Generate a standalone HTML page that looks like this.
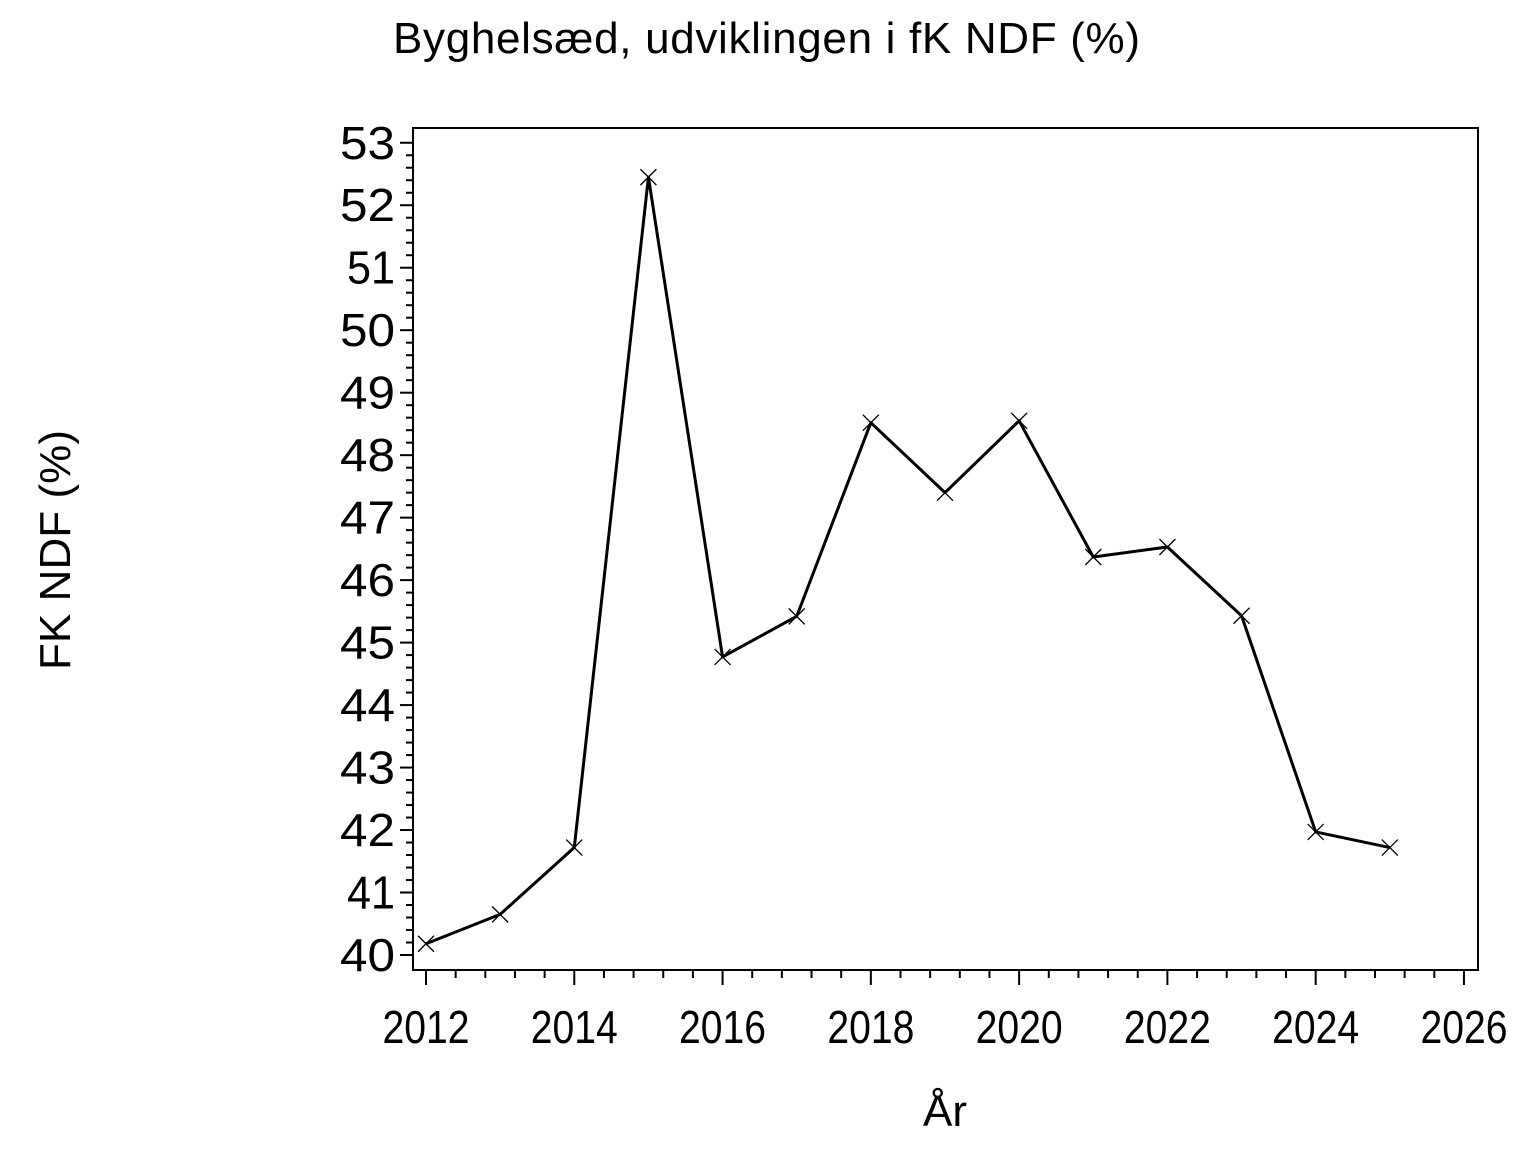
<!DOCTYPE html>
<html><head><style>body{margin:0;background:#fff}svg{display:block}text{font-family:"Liberation Sans",Arial,sans-serif;fill:#000}</style></head><body>
<svg width="1536" height="1152" viewBox="0 0 1536 1152" xmlns="http://www.w3.org/2000/svg">
<text x="393" y="53" font-size="44" textLength="747" lengthAdjust="spacing">Byghelsæd,  udviklingen  i  fK  NDF  (%)</text>
<text transform="translate(70,550) rotate(-90)" font-size="44" text-anchor="middle" textLength="240" lengthAdjust="spacing">FK  NDF  (%)</text>
<text x="945" y="1126" font-size="44" text-anchor="middle">År</text>
<rect x="413" y="128" width="1065" height="842" fill="none" stroke="#000" stroke-width="2"/>
<g id="yt" stroke="#000" stroke-width="2"></g>
<g id="xt" stroke="#000" stroke-width="2"></g>
<g id="yl" font-size="46" text-anchor="end"></g>
<g id="xl" font-size="46" text-anchor="middle"></g>
<polyline id="ln" fill="none" stroke="#000" stroke-width="3" stroke-linejoin="round"/>
<g id="mk" stroke="#000" stroke-width="1.3"></g>
<script>
var ns="http://www.w3.org/2000/svg";
function el(p,t,a,tx){var e=document.createElementNS(ns,t);for(var k in a)e.setAttribute(k,a[k]);if(tx)e.textContent=tx;document.getElementById(p).appendChild(e);return e;}
function Y(v){return 955-62.48*(v-40);}
function X(y){return 426+74.14*(y-2012);}
for(var i=0;i<=65;i++){var y=955-i*62.48/5;el("yt","line",{x1:i%5?406:400,x2:413,y1:y,y2:y});}
for(var v=40;v<=53;v++)el("yl","text",{x:395,y:Y(v)+16,textLength:(v==41||v==51)?48:55,lengthAdjust:"spacingAndGlyphs"},v);
for(var i=0;i<=35;i++){var x=426+i*74.14*2/5;el("xt","line",{x1:x,x2:x,y1:970,y2:i%5?978:985});}
for(var yr=2012;yr<=2026;yr+=2)el("xl","text",{x:X(yr),y:1043,textLength:87,lengthAdjust:"spacingAndGlyphs"},yr);
var d=[40.18,40.65,41.72,52.45,44.77,45.42,48.52,47.4,48.55,46.37,46.53,45.43,41.97,41.72],pts=[];
d.forEach(function(v,i){var x=X(2012+i),y=Y(v);pts.push(x+","+y);
el("mk","line",{x1:x-8,y1:y-8,x2:x+8,y2:y+8});el("mk","line",{x1:x-8,y1:y+8,x2:x+8,y2:y-8});});
document.getElementById("ln").setAttribute("points",pts.join(" "));
</script>
</svg></body></html>
